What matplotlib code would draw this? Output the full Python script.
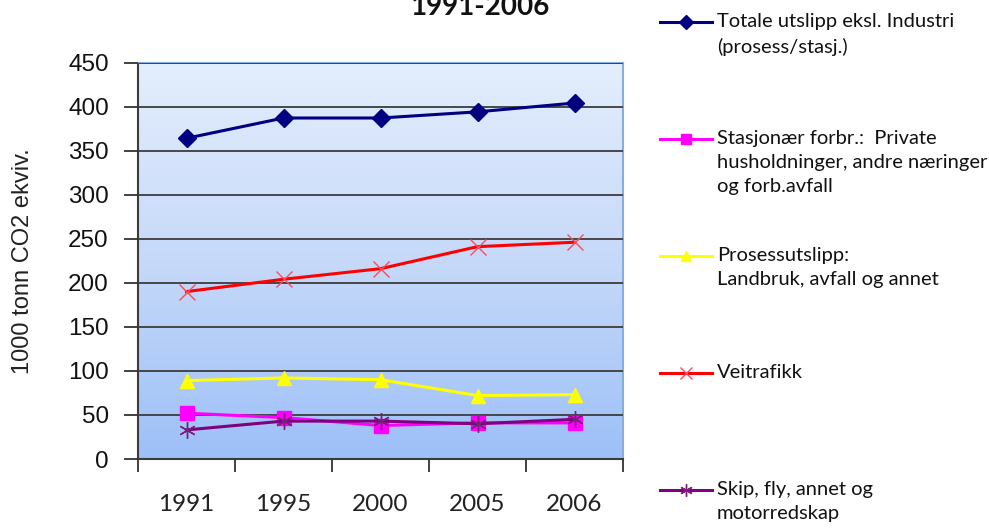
import numpy as np
import matplotlib
matplotlib.use("Agg")
import matplotlib.pyplot as plt
from matplotlib.colors import LinearSegmentedColormap
from matplotlib.lines import Line2D

years = ["1991", "1995", "2000", "2005", "2006"]

totale = [364, 387, 387, 394, 404]
stasjonaer = [52, 47, 38, 41, 41]
prosess = [89, 92, 90, 72, 73]
veitrafikk = [190, 204, 216, 241, 246]
skip_fly = [33, 43, 43, 40, 45]

labels = [
    "Totale utslipp eksl. Industri\n(prosess/stasj.)",
    "Stasjonær forbr.:  Private\nhusholdninger, andre næringer\nog forb.avfall",
    "Prosessutslipp:\nLandbruk, avfall og annet",
    "Veitrafikk",
    "Skip, fly, annet og\nmotorredskap",
]

styles = [
    dict(color="#000080", marker="D", ms=9, mfc="#000080", mec="#000080"),
    dict(color="#ff00ff", marker="s", ms=10, mfc="#ff00ff", mec="#ff00ff"),
    dict(color="#ffff00", marker="^", ms=10.5, mfc="#ffff00", mec="#ffff00"),
    dict(color="#ff0000", marker="x", ms=11, mfc="none", mec="#ff4a5a", mew=1.0),
    dict(color="#800080", marker=(6, 2, 0), ms=12, mfc="none", mec="#7a1f7a", mew=1.0),
]

series = [totale, stasjonaer, prosess, veitrafikk, skip_fly]

W, H = 989, 529
fig = plt.figure(figsize=(W / 100, H / 100), dpi=100)
fig.patch.set_facecolor("white")

ax = fig.add_axes([138 / W, 1 - 459 / H, (623 - 138) / W, (459 - 62.5) / H])

# gradient plot background
cmap = LinearSegmentedColormap.from_list("bg", ["#9dc0f8", "#c6d9f9", "#e4eefd"])
grad = np.linspace(0, 1, 256)[:, None]
ax.imshow(grad, extent=[0, 1, 0, 1], transform=ax.transAxes, origin="lower",
          aspect="auto", cmap=cmap, zorder=0)

x = np.arange(len(years)) + 0.5
for vals, st in zip(series, styles):
    ax.plot(x, vals, lw=2.2, zorder=3, **st)

ax.set_xlim(0, len(years))
ax.set_ylim(0, 450)
ax.set_yticks(np.arange(0, 451, 50))
ax.yaxis.grid(True, color="#3c3c3c", lw=1.3, zorder=1)
ax.set_axisbelow(False)

ax.set_xticks(np.arange(0, len(years) + 1))
ax.set_xticklabels([])
ax.set_xticks(x, minor=True)
ax.set_xticklabels(years, minor=True, fontfamily="Lato", fontsize=17.5, color="#222222")
ax.tick_params(axis="x", which="minor", length=0, pad=25)
ax.tick_params(axis="x", which="major", length=9, width=1.3, color="#333333")
ax.tick_params(axis="y", length=10, width=1.3, color="#333333", pad=11,
               labelsize=17.5, labelcolor="#111111")
for lab in ax.get_yticklabels():
    lab.set_fontfamily("Liberation Sans")

for side in ("top", "right"):
    ax.spines[side].set_color("#88aee0")
    ax.spines[side].set_linewidth(1.5)
for side in ("left", "bottom"):
    ax.spines[side].set_color("#3c3c3c")
    ax.spines[side].set_linewidth(1.5)

ax.set_ylabel("1000 tonn CO2 ekviv.", fontfamily="Liberation Sans", fontsize=17,
              color="#222222")
ax.yaxis.set_label_coords(-(138 - 34) / (623 - 138), 0.5)

fig.text(480 / W, 1 - 15 / H, "1991-2006", ha="center", va="baseline",
         fontfamily="Lato", fontweight="bold", fontsize=20, color="#111111")

# legend drawn as a column on the right
for i, (lab, st) in enumerate(zip(labels, styles)):
    yc = 22 + 117 * i
    fy = 1 - yc / H
    fig.add_artist(Line2D([660 / W, 712 / W], [fy, fy], transform=fig.transFigure,
                          lw=2.2, color=st["color"]))
    mk = {k: v for k, v in st.items() if k != "color"}
    mk["ms"] = mk["ms"] * 0.75
    fig.add_artist(Line2D([686 / W], [fy], transform=fig.transFigure, lw=0, **mk))
    fig.text(717 / W, 1 - (yc - 9) / H, lab, ha="left", va="top", fontfamily="Lato",
             fontsize=14.5, color="#111111", linespacing=1.5)

fig.savefig("out.png", dpi=100)
